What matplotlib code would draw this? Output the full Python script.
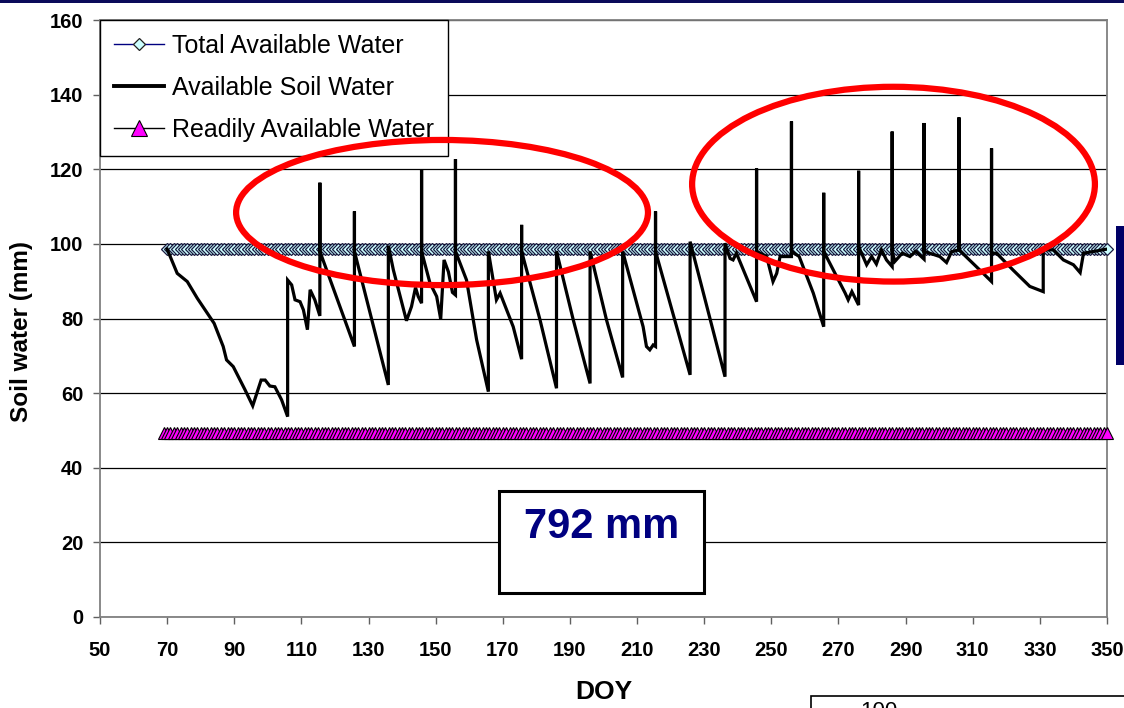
import numpy as np
import matplotlib
matplotlib.use('Agg')
import matplotlib.pyplot as plt
from matplotlib.patches import Ellipse, Rectangle
from matplotlib.lines import Line2D

plt.rcParams['font.family'] = ['Liberation Sans', 'DejaVu Sans']

# ---------------- data ----------------
asw_doy = [70, 73, 76, 79, 84, 86.7, 87.7, 89.7, 93.2, 95.5, 98, 99.2, 100.6, 102.1, 104.1, 105.9,
           105.9, 107.1, 108.1, 109.6, 110.6, 111.8, 112.6, 114, 115.5,
           115.5, 115.5, 125.8, 125.8, 125.8, 135.9, 135.9, 137.4, 141.3, 142.8, 144.0, 144.8, 145.8,
           145.8, 145.8, 148.3, 150.3, 151.5, 152.5, 153.8, 155.0, 155.9,
           155.9, 155.9, 159.2, 162.2, 165.7, 165.7, 168.1, 169.2, 173.1, 175.6,
           175.6, 175.6, 181.1, 186.0, 186.0, 191.0, 196.0, 196.0, 200.9, 205.7, 205.7,
           211.8, 212.8, 213.8, 214.8, 215.5, 215.5, 215.5, 225.8, 225.8, 236.2, 236.2,
           237.7, 238.6, 239.6, 245.6, 245.6, 245.6, 248.6, 250.5, 251.6, 252.6, 256.0,
           256.0, 256.0, 258.3, 262.5, 265.6, 265.6, 265.6, 266.4, 272.0, 272.9, 274.0, 276.0,
           276.0, 276.0, 278.4, 279.9, 281.3, 282.8, 284.3, 286.0, 286.0, 286.0, 286.8,
           289.0, 291.3, 293.0, 295.5, 295.5, 295.5, 300.2, 302.2, 303.7, 305.9, 305.9, 305.9,
           312.1, 315.6, 315.6, 315.6, 317.1, 322.0, 327.0, 331.0, 331.0, 334.0, 337.0,
           340.0, 342.0, 343.0, 350.0]
asw_val = [98.6, 92.1, 89.9, 85.4, 78.7, 72.5, 68.9, 67.1, 60.9, 56.6, 63.5, 63.5, 61.9, 61.7, 58.2, 53.7,
           90.3, 89.0, 85.0, 84.5, 82.3, 77.0, 87.7, 85.0, 80.7,
           116.4, 98.0, 72.5, 108.7, 98.0, 62.2, 99.5, 93.0, 79.4, 83.2, 88.3, 85.9, 84.1,
           120.0, 98.0, 89.5, 85.9, 79.8, 95.7, 92.5, 87.0, 86.3,
           122.7, 98.0, 90.3, 74.3, 60.4, 98.0, 85.0, 86.8, 77.8, 69.1,
           105.1, 98.0, 79.6, 61.3, 98.0, 79.6, 62.6, 98.0, 79.6, 64.2, 98.0,
           77.8, 72.5, 71.6, 72.9, 72.5, 108.7, 98.0, 64.9, 100.6, 64.4, 100.2,
           96.1, 95.7, 97.5, 84.5, 120.2, 98.0, 96.6, 89.9, 92.1, 96.6, 96.6,
           132.8, 98.0, 96.6, 86.8, 77.8, 113.7, 98.0, 96.6, 86.8, 85.0, 87.2, 83.6,
           119.6, 99.3, 94.4, 96.6, 94.6, 98.4, 95.7, 93.9, 130.1, 98.0, 95.3,
           97.5, 96.6, 98.0, 95.9, 132.4, 98.0, 96.6, 95.0, 97.9, 98.4, 133.9, 98.4,
           93.0, 89.9, 125.6, 97.5, 97.5, 93.0, 88.6, 87.2, 98.4, 98.4, 95.7,
           94.4, 92.3, 97.5, 98.6]

taw_level = 98.6
raw_level = 49.3
taw_doy = np.arange(70, 351)
taw_val = np.full(taw_doy.size, taw_level)
raw_doy = np.arange(69, 351)
raw_val = np.full(raw_doy.size, raw_level)

x_ticks = list(range(50, 351, 20))
y_ticks = list(range(0, 161, 20))

labels = ['Total Available Water', 'Available Soil Water', 'Readily Available Water']
total_text = '792 mm'

# ---------------- figure ----------------
W, H = 1124, 708
fig = plt.figure(figsize=(W / 100, H / 100), dpi=100)
fig.patch.set_facecolor('white')

L, R, T, B = 100, 1107, 20, 617
ax = fig.add_axes([L / W, (H - B) / H, (R - L) / W, (B - T) / H])
ax.set_xlim(50, 350)
ax.set_ylim(0, 160)
ax.set_xticks(x_ticks)
ax.set_yticks(y_ticks)
for s in ax.spines.values():
    s.set_color('#808080')
    s.set_linewidth(1.3)
ax.tick_params(axis='both', direction='out', length=5, width=1, color='#606060')
ax.tick_params(axis='x', pad=12, labelsize=14.5)
ax.tick_params(axis='y', pad=7, labelsize=14.5)
for lab in ax.get_xticklabels() + ax.get_yticklabels():
    lab.set_fontweight('bold')
ax.yaxis.grid(True, color='black', linewidth=0.9)
ax.set_axisbelow(True)

taw_style = dict(color='#000080', linewidth=1, marker='D', markersize=6.5,
                 markerfacecolor='#CCFFFF', markeredgecolor='#1a1a40', markeredgewidth=0.9)
raw_style = dict(color='black', linewidth=1, marker='^', markersize=9,
                 markerfacecolor='#FF00FF', markeredgecolor='black', markeredgewidth=0.8)
asw_style = dict(color='black', linewidth=2.3)

ax.plot(taw_doy, taw_val, clip_on=False, zorder=3, **taw_style)
ax.plot(asw_doy, asw_val, zorder=4, solid_joinstyle='miter', **asw_style)
ax.plot(raw_doy, raw_val, clip_on=False, zorder=3, **raw_style)

# total box
ax.add_patch(Rectangle((168.9, 6.4), 61.0, 27.4, facecolor='white', edgecolor='black',
                       linewidth=2.2, zorder=5))
ax.text(199.5, 24.0, total_text, ha='center', va='center', fontsize=30,
        fontweight='bold', color='#000080', zorder=7)

# legend
handles = [Line2D([], [], **dict(taw_style, markersize=6.5, markeredgecolor='#202020')),
           Line2D([], [], **dict(asw_style, linewidth=2.8)),
           Line2D([], [], **dict(raw_style, markersize=11))]
leg = ax.legend(handles, labels, loc='upper left', bbox_to_anchor=(0, 1),
                borderaxespad=0, fontsize=18, frameon=True, fancybox=False,
                framealpha=1, edgecolor='black', handlelength=2.0,
                handletextpad=0.35, labelspacing=0.72, borderpad=0.55)
leg.get_frame().set_linewidth(1.0)
leg.set_zorder(6)

# red ellipses (drawn over the legend)
ax.add_patch(Ellipse((151.9, 108.4), 122.7, 38.9, fill=False, edgecolor='#FF0000',
                     linewidth=4.5, zorder=9))
ax.add_patch(Ellipse((286.4, 116.0), 120.0, 52.2, fill=False, edgecolor='#FF0000',
                     linewidth=4.5, zorder=9))

# axis titles
fig.text(22 / W, 1 - 332 / H, 'Soil water (mm)', rotation=90, ha='center', va='center',
         fontsize=17.5, fontweight='bold')
fig.text(604 / W, 1 - 692 / H, 'DOY', ha='center', va='center', fontsize=19,
         fontweight='bold')

# slide decorations (cropped)
fig.add_artist(Rectangle((0, 1 - 3 / H), 1, 3 / H, transform=fig.transFigure,
                         facecolor='#0a0a5a', edgecolor='none'))
fig.add_artist(Rectangle((1116 / W, 1 - 365 / H), 8 / W, 139 / H, transform=fig.transFigure,
                         facecolor='#000066', edgecolor='none'))
fig.add_artist(Rectangle((811 / W, -0.01), 0.3, (708 - 696) / H + 0.01,
                         transform=fig.transFigure, facecolor='white', edgecolor='black',
                         linewidth=1.2))
fig.text(860 / W, 1 - 701 / H, '100', ha='left', va='top', fontsize=16)

fig.savefig('out.png', dpi=100)
